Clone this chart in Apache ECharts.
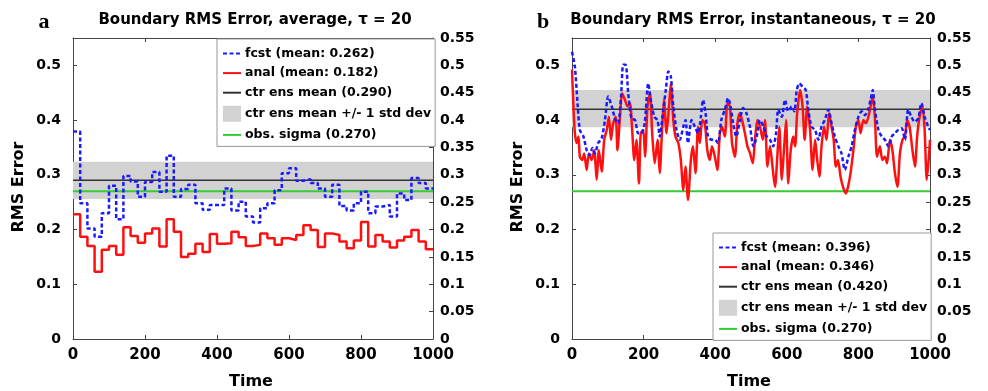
<!DOCTYPE html>
<html><head><meta charset="utf-8">
<script src="https://cdn.jsdelivr.net/npm/echarts@6/dist/echarts.min.js"></script>
<style>html,body{margin:0;padding:0;background:#fff}#c{width:988px;height:391px}</style>
</head><body><div id="c"></div>
<script>
// ---------- DATA ----------
const xTicks = [0, 200, 400, 600, 800, 1000];

// Panel a: time-averaged (step) series, each value holds for 20 time units
const leftTimes = [0,20,40,60,80,100,120,140,160,180,
  200,220,240,260,280,300,320,340,360,380,
  400,420,440,460,480,500,520,540,560,580,
  600,620,640,660,680,700,720,740,760,780,
  800,820,840,860,880,900,920,940,960,980, 1000];
const leftFcst = [0.379,0.248,0.202,0.187,0.230,0.280,0.219,0.298,0.288,0.260,
  0.287,0.305,0.269,0.335,0.260,0.274,0.282,0.248,0.236,0.245,
  0.245,0.275,0.235,0.251,0.224,0.213,0.239,0.248,0.272,0.303,
  0.312,0.289,0.292,0.285,0.275,0.260,0.282,0.243,0.235,0.248,
  0.269,0.230,0.242,0.245,0.224,0.266,0.254,0.294,0.285,0.275];
const leftAnal = [0.228,0.187,0.170,0.123,0.163,0.170,0.154,0.204,0.188,0.176,
  0.193,0.202,0.169,0.219,0.196,0.150,0.156,0.174,0.159,0.192,
  0.174,0.175,0.196,0.186,0.170,0.172,0.193,0.184,0.172,0.184,
  0.181,0.190,0.208,0.199,0.168,0.193,0.190,0.178,0.166,0.180,
  0.214,0.169,0.190,0.178,0.167,0.180,0.187,0.199,0.178,0.164];
const leftCtrMean = 0.290;
const leftBand = [0.256, 0.324];
const leftObs = 0.270;
const leftNames = ['fcst (mean: 0.262)', 'anal (mean: 0.182)', 'ctr ens mean (0.290)', 'ctr ens mean +/- 1 std dev', 'obs. sigma (0.270)'];

// Panel b: instantaneous series
const rightFcstT = [0,8,16,22,32,41,50,57,64,73,
  83,92,101,111,120,129,137,143,150,157,
  166,176,185,194,203,213,220,230,239,245,
  255,262,269,276,283,292,301,311,317,324,
  334,343,352,360,366,373,380,390,399,408,
  417,427,436,443,450,459,469,478,487,497,
  507,516,525,535,544,553,562,570,576,586,
  595,604,614,621,628,635,644,653,660,669,
  679,688,697,706,716,725,734,744,753,762,
  772,781,790,800,809,818,827,834,840,846,
  856,865,874,884,893,902,911,921,930,939,
  948,957,967,976,985,995,1000];
const rightFcstV = [0.525,0.498,0.425,0.382,0.370,0.345,0.336,0.349,0.339,0.358,
  0.367,0.400,0.443,0.425,0.403,0.394,0.443,0.501,0.501,0.449,
  0.403,0.400,0.376,0.376,0.394,0.467,0.437,0.406,0.400,0.370,
  0.419,0.455,0.489,0.480,0.425,0.382,0.364,0.388,0.400,0.358,
  0.400,0.388,0.376,0.406,0.437,0.413,0.370,0.364,0.364,0.358,
  0.400,0.419,0.440,0.425,0.394,0.370,0.400,0.422,0.413,0.388,
  0.352,0.370,0.400,0.388,0.370,0.364,0.352,0.376,0.419,0.406,
  0.437,0.416,0.425,0.416,0.455,0.467,0.461,0.455,0.419,0.388,
  0.382,0.364,0.388,0.400,0.419,0.394,0.370,0.352,0.339,0.309,
  0.333,0.352,0.382,0.406,0.416,0.409,0.419,0.437,0.455,0.419,
  0.382,0.370,0.364,0.352,0.370,0.376,0.382,0.385,0.364,0.419,
  0.406,0.397,0.403,0.431,0.406,0.388,0.382];
const rightAnalT = [0,4,8,13,18,22,29,34,41,47,
  55,62,69,75,83,90,97,103,109,115,
  122,127,134,140,148,155,162,168,174,180,
  187,192,199,204,211,218,224,231,239,245,
  252,257,264,271,276,283,289,297,304,311,
  317,324,332,338,345,352,357,364,371,378,
  385,391,399,406,413,419,427,434,441,447,
  455,462,469,475,483,490,497,505,511,518,
  525,533,539,546,553,561,567,574,579,586,
  592,598,604,611,618,623,629,637,644,650,
  657,665,672,679,685,691,697,704,711,718,
  725,731,737,743,750,757,765,771,778,786,
  793,800,806,814,821,828,834,840,846,852,
  860,867,874,880,888,895,902,909,916,923,
  930,936,943,951,958,964,971,979,985,991,
  997,1000];
const rightAnalV = [0.492,0.425,0.376,0.358,0.370,0.333,0.327,0.339,0.309,0.339,
  0.327,0.345,0.291,0.345,0.306,0.364,0.382,0.406,0.364,0.394,
  0.406,0.345,0.406,0.449,0.437,0.425,0.431,0.382,0.327,0.364,
  0.284,0.376,0.382,0.333,0.425,0.449,0.376,0.321,0.364,0.303,
  0.388,0.437,0.376,0.425,0.467,0.400,0.370,0.358,0.327,0.272,
  0.315,0.254,0.327,0.352,0.303,0.388,0.358,0.400,0.394,0.345,
  0.327,0.352,0.333,0.309,0.376,0.388,0.370,0.431,0.425,0.358,
  0.333,0.394,0.413,0.400,0.376,0.352,0.340,0.321,0.364,0.400,
  0.388,0.364,0.400,0.315,0.352,0.309,0.278,0.339,0.388,0.291,
  0.345,0.400,0.284,0.345,0.370,0.352,0.413,0.455,0.425,0.364,
  0.425,0.382,0.309,0.364,0.327,0.297,0.352,0.388,0.364,0.413,
  0.388,0.364,0.315,0.327,0.297,0.278,0.266,0.278,0.303,0.345,
  0.388,0.400,0.376,0.400,0.394,0.406,0.425,0.443,0.406,0.333,
  0.352,0.327,0.333,0.321,0.364,0.345,0.303,0.278,0.339,0.364,
  0.370,0.400,0.388,0.345,0.315,0.370,0.406,0.425,0.382,0.291,
  0.333,0.364];
const rightCtrMean = 0.420;
const rightBand = [0.387, 0.455];
const rightObs = 0.270;
const rightNames = ['fcst (mean: 0.396)', 'anal (mean: 0.346)', 'ctr ens mean (0.420)', 'ctr ens mean +/- 1 std dev', 'obs. sigma (0.270)'];

const titles = ['Boundary RMS Error, average, \u03c4 = 20', 'Boundary RMS Error, instantaneous, \u03c4 = 20'];
const panelLetters = ['a', 'b'];

// ---------- STYLE ----------
const FF = 'DejaVu Sans';
const AX = '#444';
const BLUE = '#1a1aff', RED = '#ff1010', GREEN = '#33cc33', BLACK = '#333333', GRAY = '#d2d2d2';
const grids = [{left: 73, top: 38, width: 360, height: 301}, {left: 572, top: 38, width: 358, height: 301}];

const chart = echarts.init(document.getElementById('c'), null, {renderer: 'canvas'});

const xAxes = [], yAxes = [], series = [], legends = [], graphics = [];
const lblStyle = {color: '#000', fontWeight: 'bold', fontSize: 14, fontFamily: FF};

function addPanel(i, fcstData, analData, mean, band, obs, names, step, legendPos) {
  xAxes.push({gridIndex: i, type: 'value', min: xTicks[0], max: xTicks[xTicks.length - 1], interval: xTicks[1] - xTicks[0], position: 'bottom',
    axisLine: {show: true, onZero: false, lineStyle: {color: AX, width: 1}},
    axisTick: {show: true, inside: true, length: 4, lineStyle: {color: AX}},
    axisLabel: Object.assign({}, lblStyle, {margin: 9, fontSize: 15, formatter: v => String(v)}), splitLine: {show: false}});
  xAxes.push({gridIndex: i, type: 'value', min: xTicks[0], max: xTicks[xTicks.length - 1], interval: xTicks[1] - xTicks[0], position: 'top',
    axisLine: {show: true, onZero: false, lineStyle: {color: AX, width: 1}},
    axisTick: {show: true, inside: true, length: 4, lineStyle: {color: AX}},
    axisLabel: {show: false}, splitLine: {show: false}});
  yAxes.push({gridIndex: i, type: 'value', min: 0, max: 0.55, interval: 0.1, position: 'left',
    axisLine: {show: true, onZero: false, lineStyle: {color: AX, width: 1}},
    axisTick: {show: true, inside: true, length: 4, lineStyle: {color: AX}},
    axisLabel: Object.assign({margin: 12, showMaxLabel: false}, lblStyle), splitLine: {show: false}});
  yAxes.push({gridIndex: i, type: 'value', min: 0, max: 0.55, interval: 0.05, position: 'right',
    axisLine: {show: true, onZero: false, lineStyle: {color: AX, width: 1}},
    axisTick: {show: true, inside: true, length: 4, lineStyle: {color: AX}},
    axisLabel: Object.assign({margin: 7}, lblStyle), splitLine: {show: false}});
  const xa = i * 2, ya = i * 2;
  // band
  series.push({name: names[3], type: 'line', xAxisIndex: xa, yAxisIndex: ya, z: 1, silent: true, symbol: 'none',
    data: [[0, band[0]], [1000, band[0]]], lineStyle: {opacity: 0}, itemStyle: {color: GRAY},
    markArea: {silent: true, itemStyle: {color: GRAY, opacity: 1}, data: [[{yAxis: band[0]}, {yAxis: band[1]}]]}});
  // ctr ens mean
  series.push({name: names[2], type: 'line', xAxisIndex: xa, yAxisIndex: ya, z: 3, silent: true, symbol: 'none',
    data: [[0, mean], [1000, mean]], lineStyle: {color: BLACK, width: 1.5}, itemStyle: {color: BLACK}});
  // obs sigma
  series.push({name: names[4], type: 'line', xAxisIndex: xa, yAxisIndex: ya, z: 3, silent: true, symbol: 'none',
    data: [[0, obs], [1000, obs]], lineStyle: {color: GREEN, width: 2}, itemStyle: {color: GREEN}});
  // anal
  series.push(Object.assign({name: names[1], type: 'line', xAxisIndex: xa, yAxisIndex: ya, z: 4, silent: true, symbol: 'none',
    data: analData, lineStyle: {color: RED, width: 2.5}, itemStyle: {color: RED}}, step ? {step: 'end'} : {smooth: 0.25}));
  // fcst
  series.push(Object.assign({name: names[0], type: 'line', xAxisIndex: xa, yAxisIndex: ya, z: 5, silent: true, symbol: 'none',
    data: fcstData, lineStyle: {color: BLUE, width: 2.5, type: [4, 2.5]}, itemStyle: {color: BLUE}}, step ? {step: 'end'} : {smooth: 0.25}));
  legends.push(Object.assign({
    orient: 'vertical', backgroundColor: '#fff', borderColor: '#999', borderWidth: 1, borderRadius: 0,
    padding: [8, 4, 5, 5], itemWidth: 18, itemHeight: 16, itemGap: 6.6, selectedMode: false,
    itemStyle: {opacity: 0},
    textStyle: {color: '#000', fontWeight: 'bold', fontSize: 12.5, fontFamily: FF, padding: [0, 0, 0, -1]},
    data: [names[0], names[1], names[2], {name: names[3], icon: 'rect', itemStyle: {color: GRAY, opacity: 1}}, names[4]]
  }, legendPos));
  const g = grids[i];
  const cx = g.left + g.width / 2;
  graphics.push({type: 'text', x: cx + 2, y: 20, style: {text: titles[i], font: 'bold 15px "' + FF + '"', fill: '#000', align: 'center', verticalAlign: 'middle'}});
  graphics.push({type: 'text', x: g.left - 29, y: 22, style: {text: panelLetters[i], font: 'bold 22px "Liberation Serif"', fill: '#000', align: 'center', verticalAlign: 'middle'}});
  graphics.push({type: 'text', x: cx - 2, y: 382, style: {text: 'Time', font: 'bold 16px "' + FF + '"', fill: '#000', align: 'center', verticalAlign: 'middle'}});
  graphics.push({type: 'text', x: g.left - 54, y: 187, rotation: Math.PI / 2, style: {text: 'RMS Error', font: 'bold 16px "' + FF + '"', fill: '#000', align: 'center', verticalAlign: 'middle'}});
}

const leftFcstData = leftTimes.map((t, k) => [t, leftFcst[Math.min(k, leftFcst.length - 1)]]);
const leftAnalData = leftTimes.map((t, k) => [t, leftAnal[Math.min(k, leftAnal.length - 1)]]);
const rightFcstData = rightFcstT.map((t, k) => [t, rightFcstV[k]]);
const rightAnalData = rightAnalT.map((t, k) => [t, rightAnalV[k]]);

addPanel(0, leftFcstData, leftAnalData, leftCtrMean, leftBand, leftObs, leftNames, true, {left: 217, top: 39});
addPanel(1, rightFcstData, rightAnalData, rightCtrMean, rightBand, rightObs, rightNames, false, {left: 713, top: 233});

chart.setOption({
  animation: false,
  backgroundColor: '#fff',
  grid: grids.map(g => Object.assign({containLabel: false}, g)),
  xAxis: xAxes, yAxis: yAxes, series: series, legend: legends,
  graphic: graphics
});
</script>
</body></html>
